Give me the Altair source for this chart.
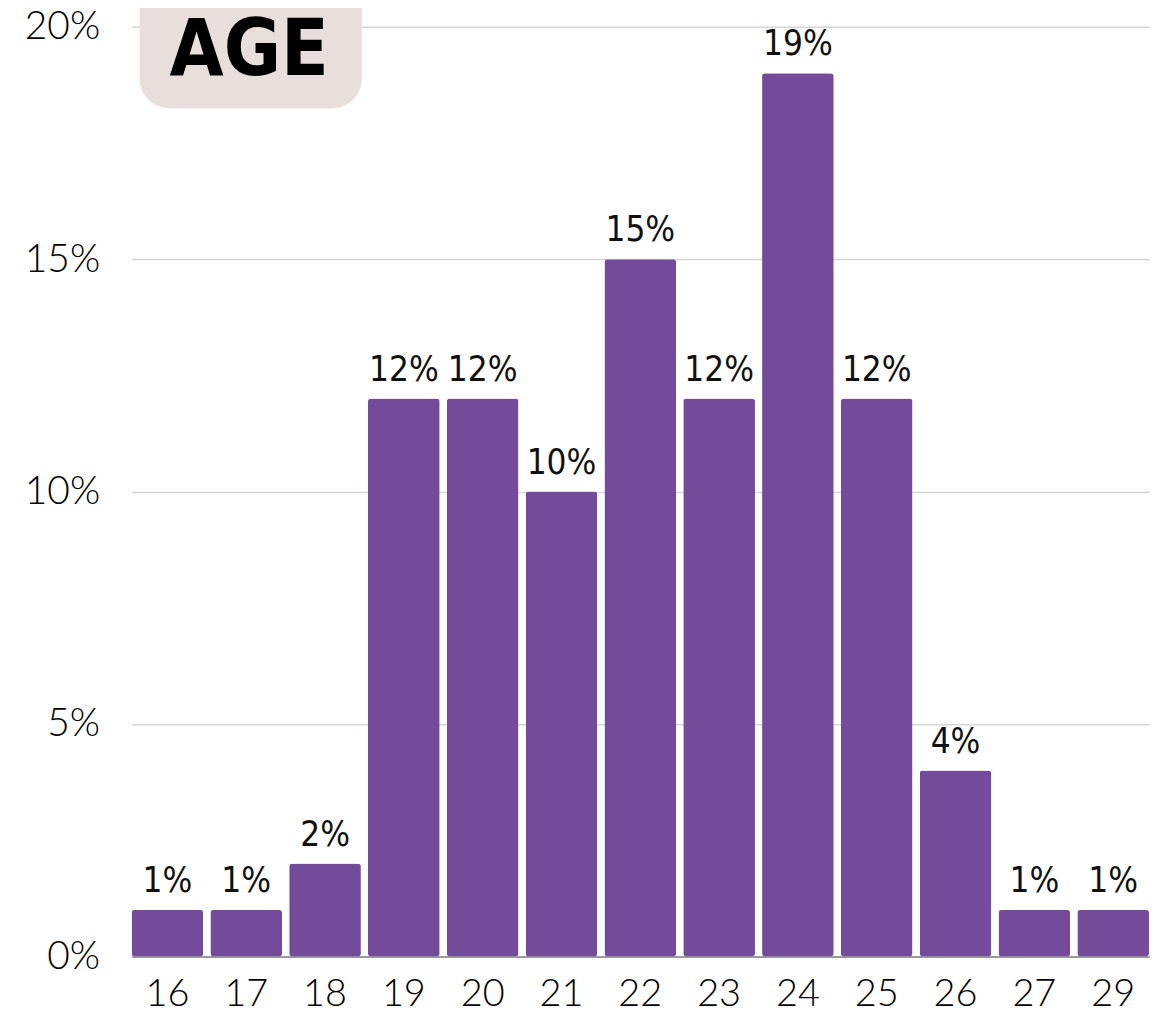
import altair as alt
import pandas as pd

ages = ["16", "17", "18", "19", "20", "21", "22", "23", "24", "25", "26", "27", "29"]
shares = [1, 1, 2, 12, 12, 10, 15, 12, 19, 12, 4, 1, 1]
y_ticks = [0, 5, 10, 15, 20]
title_text = "AGE"

df = pd.DataFrame({"age": ages, "share": shares})
df["label"] = df["share"].astype(str) + "%"

BAR = "#744a9b"
NARROW = "Liberation Sans Narrow, DejaVu Sans Condensed, Roboto Condensed, sans-serif"

x_enc = alt.X(
    "age:N",
    sort=ages,
    scale=alt.Scale(paddingInner=0.09, paddingOuter=0),
    axis=alt.Axis(
        title=None,
        labelAngle=0,
        labelFont="Lato",
        labelFontWeight=300,
        labelFontSize=38,
        labelColor="#000000",
        labelPadding=19,
        ticks=False,
        domain=True,
        domainColor="#9a9a9a",
        domainWidth=2,
        grid=False,
    ),
)
y_scale = alt.Scale(domain=[0, 20], nice=False)

bars = alt.Chart(df).mark_bar(color=BAR, cornerRadius=3).encode(
    x=x_enc,
    y=alt.Y(
        "share:Q",
        scale=y_scale,
        axis=alt.Axis(
            title=None,
            values=y_ticks,
            labelExpr="datum.value + '%'",
            labelFont="Lato",
            labelFontWeight=300,
            labelFontSize=39,
            labelColor="#000000",
            labelPadding=32,
            ticks=False,
            domain=False,
            gridColor="#d6d6d6",
            gridWidth=1.5,
        ),
    ),
)

labels = alt.Chart(df).mark_text(
    font=NARROW,
    fontSize=35,
    color="#111111",
    baseline="alphabetic",
    dy=-18,
).encode(
    x=alt.X("age:N", sort=ages),
    y=alt.Y("share:Q", scale=y_scale),
    text="label:N",
)

title_df = pd.DataFrame({"t": [title_text]})
box = alt.Chart(title_df).mark_rect(color="#e8dfdc", cornerRadius=30).encode(
    x=alt.value(8), x2=alt.value(231), y=alt.value(-80), y2=alt.value(82)
)
title = alt.Chart(title_df).mark_text(
    font=NARROW,
    fontWeight="bold",
    fontSize=78,
    color="#000000",
    baseline="alphabetic",
    align="center",
).encode(x=alt.value(118), y=alt.value(48), text="t:N")

chart = (
    alt.layer(bars, labels, box, title)
    .properties(
        width=1021,
        height=933,
        autosize=alt.AutoSizeParams(type="none"),
        padding={"left": 124, "top": 17, "right": 8, "bottom": 60},
        background="white",
    )
    .configure_view(stroke=None)
)

chart.save("out.html", embed_options={"renderer": "svg", "actions": False})
